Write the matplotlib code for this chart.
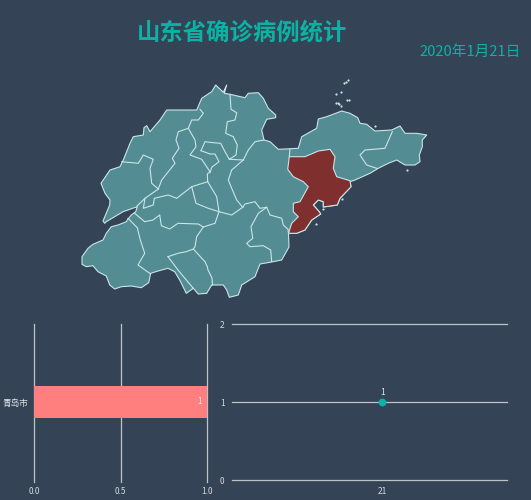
import matplotlib
matplotlib.use("Agg")
import matplotlib.pyplot as plt
from matplotlib.patches import Polygon

plt.rcParams['font.family'] = ['Noto Sans CJK SC', 'DejaVu Sans']

W, H = 531, 500
BG = '#344356'
LAND = '#548c94'
HIGHLIGHT = '#7f302e'
EDGE = '#c9e6e8'
TEAL = '#0cb3a5'
GRID = '#bcc4ca'
BAR = '#ff7f7f'
TICK = '#d5dade'

title = '山东省确诊病例统计'
subtitle = '2020年1月21日'

# horizontal bar chart
bar_categories = ['青岛市']
bar_values = [1]
bar_ticks = [0.0, 0.5, 1.0]

# line chart
line_days = [21]
line_values = [1]
line_ticks = [0, 1, 2]
line_range = [-0.5475, 0.4525]

# map geometry (map units)
province_outline = [
    (215.7,85),(223.3,92.3),(226.7,85),(224.3,93.3),(230,94.3),(245,97.7),(248.3,93.3),(258.3,92.7),
    (263.3,98.3),(268.3,108.3),(275.7,115),(275.7,117.7),(266.7,119.3),(261.7,130),(264,140),(270,141.7),
    (278.3,149.3),(285,149),(298.3,148.3),(301.7,136.7),(316.7,128.3),(318.3,119),(326.7,116.7),
    (341.7,111),(350,113.3),(357.7,117.7),(360,123.3),(366.7,124.3),(375,131),(391.7,130),(400,126),
    (405,133.3),(416.7,133.3),(426.7,135),(422.3,140),(422.3,146.7),(419.3,155),(420,161.7),(415,165),(405,165),
    (396.7,160),(388.3,163.3),(378.3,168.3),(370,173.3),(355,180),(350,181.7),(351,186.7),(340,198.3),(337.3,205),
    (323.3,207),(323.3,201.7),(318.3,200),(313.3,205),(319,211.5),(320.7,214),(311.7,220),(305,230),
    (296.7,233.3),(288.5,233.3),(289,247),(281.7,260),(270,262.3),(260,264),(255,276.7),(241.7,285),
    (238.3,295),(229.3,297.3),(226.7,290),(223.3,285),(211.7,285),(206.7,293.3),(198.3,294),(193.3,288.3),
    (186.3,293.3),(179.7,280),(174.7,271.7),(168,268.3),(158,271),(150.7,273.3),(148.7,282.7),(141.3,287.7),
    (131.3,286),(121.3,286.7),(114.7,289),(109.7,285),(106.3,276),(98,271.7),(93,265.7),(86.3,266.7),(82,264.3),
    (82,256.7),(88,248.3),(93,244.3),(103,240),(106.3,233.3),(111.3,226.7),(118,225),(126.3,221.7),
    (127.3,220),(131.3,215),(135.7,211.7),(137.3,206.7),(123,211.7),(114.7,216.7),(106.3,221.7),(104.7,223.3),
    (103,221),(109.7,205),(110,200),(105,193.3),(101,183.3),(110,170),(120,166.7),(123.3,160),(130,143.3),(133.3,136.7),
    (143.3,135),(144,127.7),(146.7,125.7),(150,131.7),(160,120),(166.7,110),(196.7,110),(201.7,98.3),(211.7,91.7),
]
qingdao_outline = [
    (289.3,156.7),(305,156.7),(318.3,151),(330,149.3),(335,156.7),(333.3,168.3),
    (336.7,176.7),(350,180.7),(351,186.7),(340,198.3),(337.3,205),(323.3,207),(323.3,201.7),(318.3,200),
    (313.3,205),(319,211.5),(320.7,214),(311.7,220),(305,230),(296.7,233.3),(288.5,233.3),(291.7,223.3),
    (298.3,216.7),(293.3,211.7),(293.3,203.3),(300,201.7),(308.3,186.7),(303.3,181.7),(293.3,176.7),
    (287.7,169.3),
]
city_borders = [
    [(230,94.3),(231,109.3),(236.7,112.7),(235,120),(227.3,121.7),(225.7,133.3),(233.3,136.7),(237.3,145),(236,155),(229.3,159.3)],
    [(201,150.7),(205,141.7),(213.3,142.7),(220.7,143.3),(225,151.7),(229.3,159.3),(243.3,160)],
    [(264,140),(255,141.7),(248.3,150),(243.3,160)],
    [(243.3,160),(231.7,170),(228.3,180),(231.7,188.3),(236.7,200),(242.7,207.3)],
    [(200,109.3),(203.3,113.3),(198.3,120),(191.7,120),(188.3,128.3)],
    [(188.3,128.3),(178.3,131.7),(176,140),(179,148.3),(172.3,158.3),(175,163.3),(161.7,180),(158.3,189)],
    [(188.3,128.3),(195,140),(196,146.7),(190,155),(201.7,159.3),(210,171.7),(207.3,174),(207.7,181.7)],
    [(201,150.7),(210,154),(215,154),(219,161.7),(211.7,167.3),(210,172.7)],
    [(121.7,161.7),(138.3,163.3),(143.3,155),(153.3,159.3),(150,168.3),(151.7,183.3),(158.3,189)],
    [(158.3,189),(145,198.3),(137,206)],
    [(145,198.3),(143.3,208.3),(153.3,205),(154.3,198.3),(168.3,195),(176.7,198.3),(191.7,186.7),(207.7,181.7)],
    [(191.7,186.7),(196,203.3),(208.3,208.3),(219,211.7),(216.7,196.7),(207.7,181.7)],
    [(219,211.7),(231.7,215),(242.7,207.3)],
    [(242.7,207.3),(245,204),(255,201.7),(260,208.3),(266.7,207.3),(270,215),(281.7,218.3),(283.3,225),(288,229.3),(288.5,233.3)],
    [(266.7,207.3),(258.3,213.3),(251,226.7),(252.7,238.3),(246.7,243.3),(250,246.7),(263.3,245.7),(270.7,250),(271.7,261.5)],
    [(134.7,213.3),(144.7,221.7),(153,220),(159.7,215),(161.3,225.7),(169.7,229),(178,223.3),(198.3,224),(203.3,227),(215,223.3),(219,211.7)],
    [(128,218.3),(137.3,227.7),(140.3,240),(144.7,253.3),(138,265),(149.7,273.3)],
    [(203.3,227),(196.7,236.7),(195,246.7),(193.3,249)],
    [(168,256.7),(178,253.3),(186.3,251.7),(193.3,249),(205,261.7),(207.3,266.7),(208,270),(212,278),(212.5,285)],
    [(168,256.7),(173,263.3),(178,270),(186.3,280),(193.3,288.3)],
    [(392.3,131.7),(385,148.3),(365,150),(360,155),(366.7,165),(376.7,168.3)],
    [(289.3,156.7),(290,149)],
]
islands = [
    (348.3,80),(346,81.5),(344.3,83.3),(340.7,91.7),(336,94),(336,102.7),(338,103),(339.3,104),(340.7,106),
    (346.7,100),(349,100),(315.7,224.3),(341.7,199),(406.7,170),(375,126),(323,209),
]

fig = plt.figure(figsize=(W/100, H/100), dpi=100, facecolor=BG)


def px_axes(x0, y0, x1, y1):
    return fig.add_axes([x0/W, 1-y1/H, (x1-x0)/W, (y1-y0)/H], facecolor='none')


# map
mp = px_axes(0, 0, W, H)
mp.set_xlim(0, W)
mp.set_ylim(H, 0)
mp.axis('off')
mp.add_patch(Polygon(province_outline, closed=True, fc=LAND, ec=EDGE, lw=0.8, joinstyle='round'))
for chain in city_borders:
    xs, ys = zip(*chain)
    mp.plot(xs, ys, color=EDGE, lw=0.8, solid_joinstyle='round')
mp.add_patch(Polygon(qingdao_outline, closed=True, fc=HIGHLIGHT, ec=EDGE, lw=0.8, joinstyle='round', zorder=3))
ix, iy = zip(*islands)
mp.scatter(ix, iy, s=2.5, color=EDGE, linewidths=0, zorder=3)

# titles
fig.text(242/W, 1-32/H, title, color=TEAL, fontsize=16.8, fontweight='bold', ha='center', va='center')
fig.text(521/W, 1-52/H, subtitle, color=TEAL, fontsize=10.6, ha='right', va='center')

# bar chart
bx = px_axes(34, 324, 207, 480)
bx.set_xlim(bar_ticks[0], bar_ticks[-1])
bx.set_ylim(-0.5, 0.5)
for t in bar_ticks:
    bx.plot([t, t], [-0.51, 0.5], color=GRID, lw=0.9, clip_on=False, zorder=1)
bx.barh(range(len(bar_categories)), bar_values, height=0.21, color=BAR, zorder=2)
for i, v in enumerate(bar_values):
    bx.annotate(str(v), (v, i), xytext=(-4, 0), textcoords='offset points', color='#f2f2f2',
                fontsize=5.8, ha='right', va='center', zorder=3)
bx.set_xticks(bar_ticks, [f'{t:.1f}' for t in bar_ticks])
bx.set_yticks(range(len(bar_categories)), bar_categories)
bx.tick_params(axis='x', length=0, pad=5, labelsize=6, labelcolor=TICK)
bx.tick_params(axis='y', length=0, pad=4, labelsize=6.2, labelcolor='#e6e9ec')
for s in bx.spines.values():
    s.set_visible(False)

# line chart
lx = px_axes(232, 324, 506.5, 480)
lx.set_xlim(*line_range)
lx.set_ylim(line_ticks[0], line_ticks[-1])
for t in line_ticks:
    lx.axhline(t, color=GRID, lw=0.9, clip_on=False, zorder=1)
lx.plot(range(len(line_days)), line_values, color=TEAL, marker='o', ms=4.6, mec=TEAL, lw=1, zorder=3)
for i, v in enumerate(line_values):
    lx.annotate(str(v), (i, v), xytext=(0, 3.5), textcoords='offset points', color='#e6e9ec',
                fontsize=6, ha='center', va='bottom')
lx.set_xticks(range(len(line_days)), [str(d) for d in line_days])
lx.set_yticks(line_ticks, [str(t) for t in line_ticks])
lx.tick_params(axis='x', length=0, pad=5, labelsize=6, labelcolor=TICK)
lx.tick_params(axis='y', length=0, pad=5.5, labelsize=6, labelcolor=TICK)
for s in lx.spines.values():
    s.set_visible(False)

fig.savefig('out.png', dpi=100, facecolor=BG)
